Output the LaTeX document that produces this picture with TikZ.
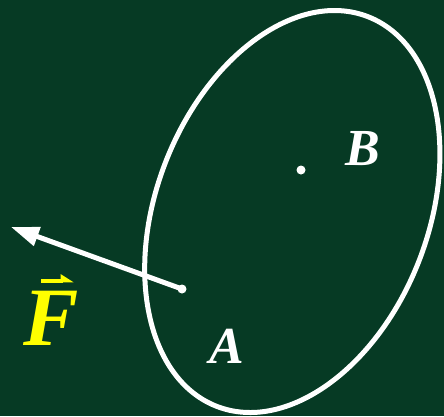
\documentclass[tikz,border=0pt]{standalone}
\usepackage{fontspec}
\setmainfont{Liberation Serif}
\usetikzlibrary{arrows.meta}
\definecolor{board}{RGB}{6,58,36}
\definecolor{fyellow}{RGB}{255,255,0}
\tikzset{
  dot/.style={circle, fill=white, inner sep=0pt, minimum size=9pt},
  lab/.style={text=white, inner sep=0pt, anchor=base, font=\fontsize{52}{52}\selectfont\bfseries\itshape},
  flab/.style={text=fyellow, inner sep=0pt, anchor=base, font=\fontsize{83}{83}\selectfont\bfseries\itshape},
  force/.style={white, line width=5pt, -{Triangle[length=28pt,width=19pt]}},
  vecarrow/.style={fyellow, line width=3.5pt, -{Triangle[left,length=11pt,width=13pt]}},
}
\begin{document}
\begin{tikzpicture}[x=1pt,y=-1pt]
\fill[board] (0,0) rectangle (444,416);
\useasboundingbox (0,0) rectangle (444,416);
\draw[white, line width=5pt, rotate around={68.8:(292.3,211.5)}] (292.3,211.5) ellipse [x radius=209pt, y radius=136pt];
\node[dot] (A) at (182,289) {};
\node[dot] (B) at (301,170) {};
\coordinate (tip) at (11,227);
\draw[force] (A.center) -- (tip);
\node[lab] (LA) at (227,363) {A};
\node[lab] (LB) at (363,165) {B};
\node[flab] (LF) at (51,345) {F};
\coordinate (vs) at (41,281);
\coordinate (ve) at (74,281);
\draw[vecarrow] (vs) -- (ve);
\end{tikzpicture}
\end{document}
